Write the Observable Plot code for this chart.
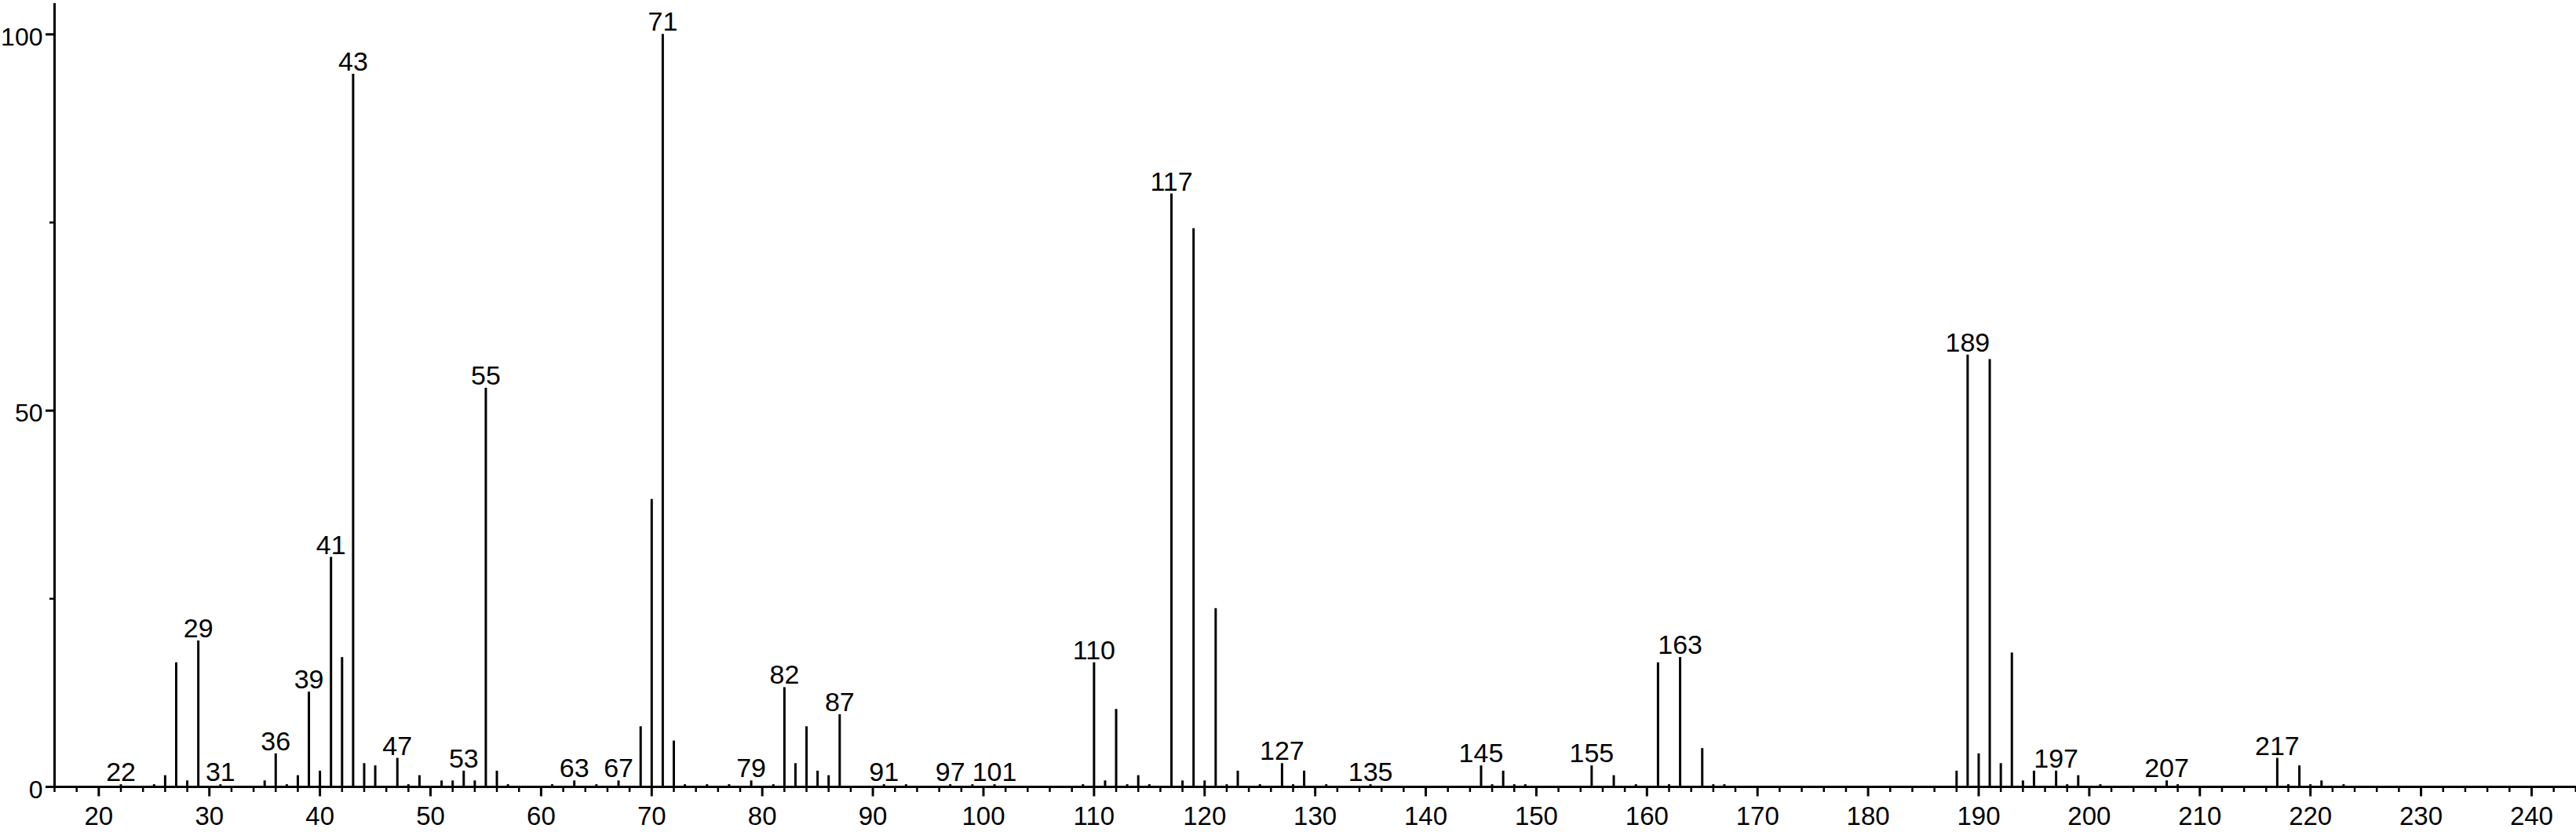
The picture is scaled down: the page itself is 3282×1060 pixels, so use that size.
<!DOCTYPE html>
<html>
<head>
<meta charset="utf-8">
<script src="https://cdn.jsdelivr.net/npm/d3@7"></script>
<script src="https://cdn.jsdelivr.net/npm/@observablehq/plot@0.6"></script>
<style>
  html, body { margin: 0; padding: 0; background: #fff; }
  #chart svg { display: block; }
</style>
</head>
<body>
<div id="chart"></div>
<script>
// m/z values of the peaks
const mz = [
  22, 25, 26, 27, 28, 29, 31, 35, 36, 37, 38, 39, 40, 41, 42, 43, 44, 45, 47, 48, 49,
  51, 52, 53, 54, 55, 56, 57, 61, 63, 65, 67, 69, 70, 71, 72, 73, 75, 77, 79, 81,
  82, 83, 84, 85, 86, 87, 91, 93, 97, 99, 101, 109, 110, 111, 112, 113, 114, 115,
  117, 118, 119, 120, 121, 122, 123, 125, 127, 128, 129, 131, 135, 145, 146, 147,
  148, 149, 155, 157, 159, 161, 162, 163, 165, 166, 167, 188, 189, 190, 191, 192,
  193, 194, 195, 197, 198, 199, 201, 207, 208, 217, 218, 219, 220, 221, 223
];
// relative intensities (%)
const intensity = [
  0.3, 0.3, 1.5, 16.5, 0.8, 19.4, 0.3, 0.8, 4.4, 0.3, 1.5, 12.6, 2.1, 30.5, 17.2, 94.7, 3.1, 2.8, 3.8, 0.3, 1.5,
  0.8, 0.8, 2.1, 0.8, 53.0, 2.1, 0.3, 0.3, 0.8, 0.3, 0.8, 8.0, 38.2, 100, 6.1, 0.3, 0.3, 0.3, 0.8, 0.3,
  13.2, 3.1, 8.0, 2.1, 1.5, 9.6, 0.3, 0.3, 0.3, 0.3, 0.3, 0.3, 16.5, 0.8, 10.3, 0.3, 1.5, 0.3,
  78.8, 0.8, 74.2, 0.8, 23.7, 0.3, 2.1, 0.3, 3.1, 0.3, 2.1, 0.3, 0.3, 2.8, 0.3, 2.1,
  0.3, 0.3, 2.8, 1.5, 0.3, 16.5, 0.3, 17.2, 5.1, 0.3, 0.3, 2.1, 57.4, 4.4, 56.8, 3.1,
  17.8, 0.8, 2.1, 2.1, 0.3, 1.5, 0.3, 0.8, 0.3, 3.8, 0.3, 2.8, 0.3, 0.8, 0.3
];
// peaks that carry an m/z label
const labeled = [22, 29, 31, 36, 39, 41, 43, 47, 53, 55, 63, 67, 71, 79, 82, 87, 91, 97, 101,
  110, 117, 127, 135, 145, 155, 163, 189, 197, 207, 217];
// axis ticks
const xMajorTicks = [20, 30, 40, 50, 60, 70, 80, 90, 100, 110, 120, 130, 140, 150, 160, 170, 180, 190, 200, 210, 220, 230, 240];
const xMinorTicks = d3.range(16, 245, 2).filter(v => v % 10 !== 0);
const yMajorTicks = [0, 50, 100];
const yMinorTicks = [25, 75];

const peaks = mz.map((m, i) => ({mz: m, intensity: intensity[i]}));
const labelRows = peaks.filter(d => labeled.includes(d.mz));

const chart = Plot.plot({
  width: 3282,
  height: 1060,
  marginLeft: 69,
  marginRight: 0,
  marginTop: 4,
  marginBottom: 58,
  x: {domain: [16, 244.05]},
  y: {domain: [0, 104.1]},
  style: {fontFamily: "'Liberation Sans', Arial, sans-serif", fontSize: "33px", color: "#000", background: "#fff"},
  marks: [
    Plot.axisX({ticks: xMajorTicks, tickSize: 12.5, tickPadding: 13, strokeWidth: 3, label: null, fontSize: 33}),
    Plot.axisX({ticks: xMinorTicks, tickSize: 7, strokeWidth: 2.5, tickFormat: () => "", label: null}),
    Plot.axisY({ticks: yMajorTicks, tickSize: 11, strokeWidth: 3, tickFormat: () => "", label: null}),
    Plot.axisY({ticks: yMajorTicks, tickSize: 0, tickPadding: 15, dy: 4, label: null, fontSize: 32}),
    Plot.axisY({ticks: yMinorTicks, tickSize: 6, strokeWidth: 2.5, tickFormat: () => "", label: null}),
    Plot.ruleX(peaks, {x: "mz", y1: 0, y2: "intensity", stroke: "#000", strokeWidth: 3}),
    Plot.ruleY([0], {stroke: "#000", strokeWidth: 3}),
    Plot.ruleX([16], {stroke: "#000", strokeWidth: 3}),
    Plot.text(labelRows, {x: "mz", y: "intensity", text: d => String(d.mz), lineAnchor: "bottom", dy: -4.5, fontSize: 34, fill: "#000"})
  ]
});
document.getElementById("chart").append(chart);
</script>
</body>
</html>
